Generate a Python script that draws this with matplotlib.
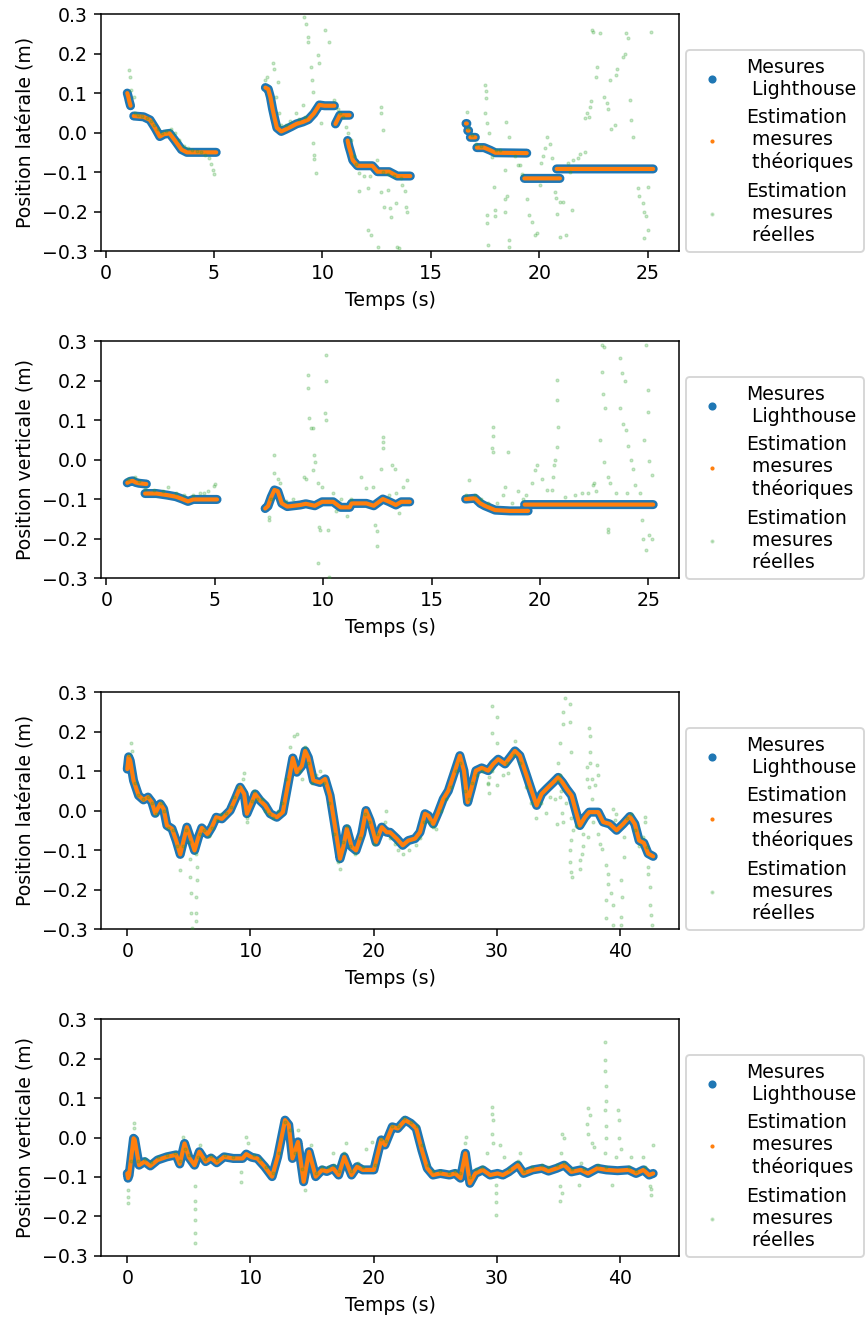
import numpy as np
import matplotlib
matplotlib.use("Agg")
import matplotlib.pyplot as plt
from matplotlib.lines import Line2D

nan = np.nan

# ---------------- Panel 1 : lateral position, run 1 ----------------
p1_t_lh = [1.0, 1.05, 1.1, 1.15, nan, 1.3, 1.75, 2.05, 2.3, 2.5, 2.7, 2.95, 3.2, 3.5, 3.75, 4.2, 5.1, nan,
           7.37, 7.5, 7.6, 7.7, 7.8, 7.9, 8.1, 8.3, 8.56, 8.8, 9.1, 9.35, 9.6, 9.86, 10.1, 10.55, nan,
           10.6, 10.8, 11.25, nan,
           11.16, 11.22, 11.3, 11.4, 11.62, 12.3, 12.54, 13.07, 13.45, 14.05, nan,
           16.62, 16.66, nan, 16.7, 16.74, nan, 16.82, 17.05, nan, 17.12, 17.45, 17.75, 17.97, 19.42, nan,
           19.31, 20.95, nan, 20.8, 25.25]
p1_y_lh = [0.10, 0.09, 0.078, 0.068, nan, 0.042, 0.040, 0.032, 0.01, -0.01, -0.004, -0.002, -0.02, -0.043, -0.05, -0.05, -0.05, nan,
           0.114, 0.11, 0.09, 0.06, 0.035, 0.012, 0.003, 0.008, 0.015, 0.022, 0.027, 0.033, 0.048, 0.07, 0.068, 0.068, nan,
           0.022, 0.044, 0.044, nan,
           -0.02, -0.035, -0.05, -0.07, -0.084, -0.084, -0.099, -0.099, -0.11, -0.11, nan,
           0.023, 0.023, nan, 0.005, 0.005, nan, -0.012, -0.012, nan, -0.038, -0.038, -0.045, -0.051, -0.052, nan,
           -0.116, -0.116, nan, -0.092, -0.092]

p1_t_re = [1.07, 1.12, 1.18, 1.3, 1.35, 1.5, 1.7, 1.9, 2.1, 2.25, 2.4, 2.6, 2.8, 3.0, 3.2, 3.4, 3.6, 3.8, 4.0, 4.2,
           4.4, 4.6, 4.75, 4.85, 4.95, 5.0,
           7.37, 7.45, 7.72, 7.75, 7.95, 7.87, 8.0, 8.1, 8.3, 8.5, 8.79, 8.9, 9.1, 9.2, 10.55, 10.7, 10.8, 10.95,
           11.08, 11.16, 11.3, 11.45, 11.55, 11.7, 11.9, 12.2, 12.5, 12.8, 13.0, 13.3, 13.6,
           9.17, 9.25, 9.33, 9.33, 9.48, 9.5, 9.56, 9.79, 9.86, 10.1, 10.32, 9.56, 9.63, 9.63, 9.68, 9.94,
           11.7, 12.08, 12.69, 12.7, 12.77, 12.69, 13.0, 12.84, 13.1, 13.15, 13.38, 12.12, 12.23, 12.58,
           13.45, 13.53, 13.69, 13.8, 13.84, 13.9,
           16.67, 16.7, 16.9, 17.1, 17.3, 17.51, 17.52, 17.52, 17.51, 17.6, 17.7, 17.81, 17.89, 17.58, 17.6,
           17.63, 17.97, 17.97, 18.0, 18.2, 18.43, 18.43, 18.5, 18.43, 18.58, 18.58, 18.47, 18.6, 18.9, 19.04,
           19.1, 19.22, 19.42, 19.54, 19.65, 19.88, 19.8, 20.03, 20.1, 20.15, 20.26, 20.34, 20.5, 20.6, 20.72,
           20.75, 20.8, 20.95, 21.1, 20.95, 21.25, 21.53, 21.33, 21.4, 21.56, 21.8, 21.87, 22.09, 22.09, 22.2,
           22.3, 22.32, 22.4, 22.48, 22.45, 22.78, 22.68, 22.63, 23.0, 23.1, 23.15, 23.32, 23.5, 23.24, 23.55,
           23.6, 23.85, 23.95, 24.0, 24.1, 24.16, 24.23, 24.3, 24.54, 24.6, 24.77, 24.85, 24.9, 24.82, 25.0,
           25.0, 25.15]
p1_y_re = [0.158, 0.141, 0.108, 0.091, 0.05, 0.045, 0.042, 0.037, 0.03, 0.018, 0.008, 0.0, 0.005, 0.008, 0.0, -0.02,
           -0.035, -0.04, -0.043, -0.046, -0.05, -0.058, -0.065, -0.08, -0.095, -0.105,
           0.133, 0.14, 0.175, 0.16, 0.129, 0.09, 0.05, 0.02, 0.02, 0.03, 0.049, 0.035, 0.07, 0.04, 0.082, 0.06,
           0.05, 0.04, 0.015, 0.0, -0.02, -0.06, -0.08, -0.103, -0.11, -0.11, -0.07, -0.1, -0.105, -0.11, -0.115,
           0.293, 0.276, 0.243, 0.23, 0.167, 0.133, 0.103, 0.196, 0.175, 0.261, 0.23, -0.027, -0.057, -0.066,
           -0.102, 0.025,
           -0.148, -0.141, 0.065, 0.05, 0.006, -0.15, -0.145, -0.188, -0.19, -0.213, -0.179, -0.247, -0.26,
           -0.289, -0.289, -0.292, -0.133, -0.147, -0.188, -0.2,
           0.053, 0.012, -0.005, -0.03, -0.035, 0.12, 0.105, 0.087, 0.05, 0.025, 0.0, -0.061, -0.137, -0.209,
           -0.23, -0.285, -0.196, -0.21, -0.045, -0.045, -0.095, -0.167, -0.16, -0.2, -0.272, -0.29, 0.027,
           -0.01, -0.06, -0.083, -0.083, -0.106, -0.167, -0.209, -0.226, -0.255, -0.26, -0.133, -0.078, -0.06,
           -0.04, -0.011, -0.03, -0.065, -0.15, -0.165, -0.205, -0.175, -0.175, -0.264, -0.26, -0.196, -0.078,
           -0.1, -0.07, -0.065, -0.053, -0.049, 0.036, 0.05, 0.04, 0.065, 0.08, 0.255, 0.26, 0.251, 0.167, 0.14,
           0.09, 0.075, 0.06, 0.008, 0.02, 0.133, 0.146, 0.16, 0.192, 0.2, 0.251, 0.24, 0.082, 0.032, -0.01,
           -0.141, -0.16, -0.179, -0.2, -0.21, -0.268, -0.247, -0.137, 0.255]

# ---------------- Panel 2 : vertical position, run 1 ----------------
p2_t_lh = [0.96, 1.1, 1.21, 1.35, 1.5, 1.84, nan,
           1.78, 2.3, 2.8, 3.2, 3.5, 3.76, 4.0, 5.1, nan,
           7.32, 7.45, 7.6, 7.75, 7.9, 8.09, 8.34, 8.94, 9.2, 9.61, 9.95, 10.46, 10.8, 11.22, 11.31, 11.99,
           12.33, 12.75, 13.05, 13.35, 13.6, 13.99, nan,
           16.57, 17.0, 17.25, 17.45, 17.93, 18.61, 19.45, nan,
           19.29, 25.22]
p2_y_lh = [-0.059, -0.055, -0.054, -0.058, -0.06, -0.062, nan,
           -0.086, -0.086, -0.09, -0.094, -0.1, -0.106, -0.101, -0.101, nan,
           -0.124, -0.118, -0.095, -0.077, -0.08, -0.111, -0.119, -0.115, -0.112, -0.117, -0.107, -0.107,
           -0.121, -0.121, -0.111, -0.111, -0.117, -0.1, -0.107, -0.115, -0.107, -0.107, nan,
           -0.1, -0.098, -0.111, -0.117, -0.128, -0.13, -0.13, nan,
           -0.114, -0.114]

p2_t_re = [1.0, 1.3, 1.5, 1.8, 2.2, 2.6, 2.83, 3.2, 3.6, 4.0, 4.3, 4.5, 4.7, 4.94, 5.0,
           7.49, 7.5, 7.6, 7.75, 7.75, 7.9, 8.0, 8.3, 8.6, 9.1, 9.2, 9.28, 9.3, 9.36, 9.45, 9.55, 9.58, 9.62,
           9.55, 9.75, 9.79, 9.85, 9.75, 9.95, 10.12, 10.15, 10.09, 10.15, 10.2, 10.26, 10.45, 10.6, 10.8,
           11.1, 11.3, 11.73, 11.99, 12.3, 12.41, 12.5, 12.46, 12.65, 12.75, 12.75, 12.75, 13.05, 13.18, 13.3,
           13.35, 13.5, 13.7, 13.86,
           16.6, 16.74, 17.0, 17.3, 17.6, 17.8, 17.84, 17.84, 17.84, 18.0, 18.3, 18.4, 18.52, 18.7, 19.0,
           19.2, 19.37, 19.62, 19.79, 19.88, 20.1, 20.3, 20.55, 20.6, 20.65, 20.7, 20.8, 20.81, 20.8, 20.78,
           21.15, 21.6, 21.95, 22.2, 22.43, 22.5, 22.6, 22.77, 22.85, 22.95, 22.85, 22.9, 23.0, 22.95, 23.12,
           23.15, 23.15, 23.25, 23.5, 23.7, 23.8, 23.9, 23.7, 23.85, 23.97, 24.05, 24.2, 24.3, 24.4, 24.71,
           24.75, 24.89, 24.89, 24.97, 24.97, 24.8, 25.05, 25.15, 25.05, 25.15, 24.6, 24.0]
p2_y_re = [-0.05, -0.043, -0.055, -0.075, -0.078, -0.08, -0.07, -0.085, -0.09, -0.09, -0.085, -0.085, -0.08,
           -0.067, -0.063,
           -0.145, -0.153, -0.1, -0.035, 0.011, -0.05, -0.06, -0.105, -0.1, -0.043, -0.05, 0.214, 0.18, 0.104,
           0.08, 0.08, 0.011, -0.005, -0.027, -0.06, -0.17, -0.178, -0.263, -0.07, 0.265, 0.2, 0.117, 0.1,
           -0.178, -0.297, -0.085, -0.13, -0.1, -0.143, -0.1, -0.043, -0.073, -0.07, -0.166, -0.18, -0.22,
           -0.025, 0.058, 0.045, 0.03, -0.09, -0.014, -0.025, -0.085, -0.135, -0.07, -0.052,
           -0.09, -0.052, -0.09, -0.1, -0.11, 0.03, 0.083, 0.06, 0.02, -0.11, -0.09, -0.07, 0.02, -0.11, -0.08,
           -0.1, -0.09, -0.06, -0.027, -0.015, -0.05, -0.077, -0.077, -0.045, -0.015, 0.0, 0.032, 0.083, 0.152,
           0.201, -0.094, -0.09, -0.085, -0.085, -0.065, -0.06, -0.08, 0.049, 0.29, 0.285, 0.222, 0.165, 0.13,
           -0.005, -0.183, -0.175, -0.045, -0.06, -0.085, 0.256, 0.22, 0.2, 0.13, 0.09, 0.075, 0.035, 0.0,
           -0.025, -0.065, -0.153, -0.2, -0.229, 0.29, 0.176, 0.12, 0.05, -0.003, -0.04, -0.19, -0.2, -0.085,
           -0.085]

# ---------------- Panel 3 : lateral position, run 2 ----------------
p3_t_lh = [0.0, 0.11, 0.24, 0.51, 0.92, 1.32, 1.68, 2.0, 2.27, 2.68, 2.95, 3.22, 3.63, 3.97, 4.3, 4.57, 4.84,
           5.11, 5.46, 5.78, 6.05, 6.51, 6.86, 7.22, 7.68, 8.35, 8.76, 9.16, 9.49, 9.71, 10.11, 10.38, 10.79,
           11.19, 11.6, 12.14, 12.63, 12.95, 13.44, 13.76, 14.17, 14.44, 14.7, 15.11, 15.65, 16.06, 16.46,
           16.87, 17.27, 17.54, 17.82, 18.22, 18.57, 19.03, 19.38, 19.71, 20.19, 20.66, 21.06, 21.33, 21.87,
           22.36, 22.81, 23.36, 23.76, 24.17, 24.44, 24.84, 25.25, 25.65, 26.06, 26.6, 27.0, 27.33, 27.63,
           27.96, 28.3, 28.77, 29.3, 29.71, 30.11, 30.66, 31.06, 31.47, 31.87, 32.42, 32.82, 33.23, 33.63,
           34.04, 34.57, 34.98, 35.33, 35.66, 36.07, 36.47, 36.74, 37.15, 37.5, 38.23, 38.63, 39.17, 39.72,
           40.25, 40.8, 41.2, 41.55, 41.93, 42.28, 42.69]
p3_y_lh = [0.105, 0.136, 0.126, 0.076, 0.038, 0.027, 0.034, 0.021, -0.007, 0.017, 0.004, -0.038, -0.046,
           -0.076, -0.111, -0.076, -0.042, -0.067, -0.101, -0.067, -0.044, -0.06, -0.042, -0.017, -0.021, 0.0,
           0.029, 0.059, 0.042, -0.008, 0.021, 0.042, 0.025, 0.013, -0.008, -0.017, -0.004, 0.05, 0.133, 0.097,
           0.113, 0.151, 0.134, 0.076, 0.071, 0.08, 0.038, -0.042, -0.122, -0.092, -0.046, -0.092, -0.101,
           -0.059, 0.0, -0.025, -0.08, -0.042, -0.055, -0.055, -0.071, -0.088, -0.076, -0.071, -0.055, -0.008,
           -0.013, -0.034, -0.004, 0.029, 0.05, 0.101, 0.139, 0.101, 0.021, 0.059, 0.101, 0.108, 0.101, 0.118,
           0.13, 0.118, 0.134, 0.151, 0.139, 0.088, 0.05, 0.013, 0.042, 0.055, 0.071, 0.084, 0.071, 0.055,
           0.038, -0.008, -0.038, -0.017, -0.004, -0.004, -0.029, -0.034, -0.05, -0.034, -0.015, -0.034,
           -0.076, -0.082, -0.109, -0.116]

p3_t_re = [0.1, 0.32, 0.4, 0.6, 0.9, 1.3, 1.7, 2.0, 2.3, 2.7, 3.0, 3.3, 3.7, 4.0, 4.3, 4.5, 4.8, 5.0,
           5.1, 5.11, 5.15, 5.2, 5.28, 5.6, 5.65, 5.65, 5.6, 5.57, 5.55, 5.9, 6.2, 6.6, 6.9, 7.3, 7.6, 8.0,
           8.4, 8.7, 9.0, 9.4, 9.5, 9.7, 9.75, 10.1, 10.3, 10.5, 10.9, 11.2, 11.5, 11.8, 12.2, 12.6, 12.9,
           13.2, 13.5, 13.76, 14.0, 14.17, 14.44, 14.7, 15.0, 15.3, 15.65, 16.0, 16.4, 16.8, 17.1, 17.27,
           17.5, 17.8, 18.1, 18.5, 18.9, 19.3, 19.6, 20.0, 20.3, 20.9, 21.0, 21.3, 21.7, 22.0, 22.4, 22.9,
           23.4, 23.8, 24.1, 24.5, 24.8, 25.1, 25.5, 25.9, 26.3, 26.7, 27.0, 27.4, 27.7, 28.0, 28.4, 28.8,
           29.3, 29.6, 30.0, 30.5, 30.8, 30.9, 31.4, 31.47, 31.9, 32.4, 32.8, 33.2, 33.6, 34.0, 34.3, 34.7,
           34.85, 35.2, 35.6, 36.0, 36.4, 37.0, 37.42, 37.8, 38.23, 38.4, 38.5, 39.44, 39.7, 39.6, 40.3, 40.6,
           40.9, 41.2, 41.5, 41.85, 42.0, 42.0,
           29.58, 29.98, 29.58, 29.98, 29.3, 29.4, 29.4,
           35.52, 35.93, 35.4, 35.4, 35.95, 35.12, 35.0, 35.1, 35.0, 35.1, 35.3, 35.35, 35.98,
           36.2, 36.0, 35.9, 35.95, 36.0, 36.14, 36.74, 36.74, 37.0, 36.95,
           37.5, 37.55, 37.55, 37.55, 37.35, 37.3, 37.45, 37.7, 37.7, 38.1, 38.25, 37.95,
           38.9, 39.0, 39.0, 38.9, 38.9, 39.3, 39.4, 39.4, 40.05, 40.2, 40.05, 40.05, 40.3,
           42.15, 42.3, 42.3, 42.4, 42.4, 42.5, 42.6]
p3_y_re = [0.14, 0.172, 0.15, 0.07, 0.04, 0.03, 0.035, 0.02, -0.01, 0.02, 0.0, -0.045, -0.05, -0.09, -0.151,
           -0.09, -0.05, -0.08, -0.122, -0.168, -0.21, -0.26, -0.297, -0.109, -0.143, -0.176, -0.218, -0.26,
           -0.28, -0.06, -0.05, -0.065, -0.045, -0.025, -0.01, -0.005, 0.01, 0.035, 0.06, 0.08, 0.095, -0.02,
           -0.03, 0.025, 0.05, 0.03, 0.03, 0.0, -0.01, -0.02, 0.0, 0.02, 0.08, 0.16, 0.19, 0.193, 0.1, 0.08,
           0.16, 0.12, 0.07, 0.09, 0.1, 0.07, 0.02, -0.06, -0.13, -0.147, -0.08, -0.04, -0.09, -0.11, -0.07,
           -0.01, -0.03, -0.085, -0.06, -0.03, 0.0, -0.07, -0.085, -0.1, -0.109, -0.101, -0.088, -0.07, -0.03,
           -0.03, -0.042, -0.046, 0.0, 0.03, 0.06, 0.1, 0.12, 0.05, 0.03, 0.07, 0.09, 0.1, 0.07, 0.1, 0.065,
           0.09, 0.12, 0.095, 0.14, 0.176, 0.12, 0.06, 0.02, -0.02, 0.02, -0.005, 0.035, 0.03, -0.034, 0.05,
           0.02, -0.02, -0.04, -0.06, -0.067, -0.03, -0.059, -0.085, -0.097, 0.004, -0.008, -0.025, -0.067,
           -0.02, -0.01, -0.05, -0.09, -0.067, -0.017, -0.03,
           0.265, 0.237, 0.197, 0.172, 0.067, 0.045, 0.085,
           0.286, 0.269, 0.25, 0.22, 0.225, 0.172, 0.12, 0.09, 0.075, 0.035, -0.005, -0.03, 0.147,
           -0.05, -0.075, -0.1, -0.13, -0.155, -0.168, -0.126, -0.147, -0.09, -0.11,
           0.21, 0.19, 0.147, 0.12, 0.11, 0.08, 0.06, 0.03, 0.08, 0.115, 0.09, 0.065,
           -0.139, -0.16, -0.185, -0.227, -0.273, -0.21, -0.24, -0.29, -0.176, -0.22, -0.27, -0.29, -0.118,
           -0.092, -0.143, -0.16, -0.193, -0.24, -0.264, -0.29]

# ---------------- Panel 4 : vertical position, run 2 ----------------
p4_t_lh = [0.0, 0.06, 0.15, 0.51, 0.6, 0.96, 1.41, 1.87, 2.46, 3.21, 3.96, 4.26, 4.65, 5.0, 5.46, 5.85, 6.36,
           6.8, 7.26, 7.86, 8.61, 9.36, 9.66, 10.1, 10.56, 11.16, 11.76, 12.21, 12.81, 13.11, 13.41, 13.86,
           14.32, 14.76, 15.3, 15.82, 16.2, 16.72, 17.16, 17.62, 18.21, 18.66, 19.12, 20.02, 20.62, 20.92,
           21.52, 21.96, 22.56, 23.02, 23.46, 23.92, 24.36, 24.82, 25.42, 26.16, 26.62, 27.06, 27.45, 27.82,
           28.26, 28.86, 29.46, 30.06, 30.5, 30.97, 31.71, 32.17, 32.91, 33.67, 34.2, 34.87, 35.47, 36.06,
           36.81, 37.41, 38.17, 38.91, 39.81, 40.71, 41.31, 41.91, 42.37, 42.7]
p4_y_lh = [-0.091, -0.103, -0.095, -0.002, -0.005, -0.07, -0.061, -0.072, -0.057, -0.049, -0.044, -0.067,
           -0.015, -0.05, -0.07, -0.036, -0.061, -0.052, -0.064, -0.049, -0.053, -0.053, -0.042, -0.05, -0.053,
           -0.074, -0.099, -0.049, 0.044, 0.032, -0.053, -0.011, -0.112, -0.036, -0.099, -0.082, -0.086,
           -0.078, -0.095, -0.049, -0.095, -0.074, -0.082, -0.082, -0.006, -0.019, 0.027, 0.023, 0.044, 0.036,
           0.023, -0.032, -0.078, -0.095, -0.091, -0.095, -0.091, -0.103, -0.04, -0.116, -0.091, -0.082,
           -0.095, -0.091, -0.095, -0.087, -0.07, -0.091, -0.082, -0.078, -0.085, -0.078, -0.07, -0.087,
           -0.082, -0.091, -0.078, -0.082, -0.084, -0.082, -0.091, -0.082, -0.095, -0.091]

p4_t_re = [0.3, 0.51, 0.55, 0.06, 0.06, 0.06, 0.9, 1.4, 1.9, 2.5, 3.2, 3.9, 4.3, 4.56, 4.7, 5.0, 5.46, 5.46,
           5.5, 5.46, 5.46, 5.46, 5.75, 5.9, 6.3, 6.8, 7.3, 7.9, 8.6, 9.21, 9.21, 9.66, 9.8, 10.3, 10.8, 11.3,
           11.8, 12.3, 12.8, 13.2, 13.6, 13.86, 14.2, 14.46, 14.9, 15.3, 15.8, 16.3, 16.7, 16.8, 17.2, 17.6,
           17.76, 18.2, 18.7, 19.1, 19.4, 19.86, 20.1, 20.6, 21.0, 21.5, 22.0, 22.5, 23.0, 23.5, 23.9, 24.4,
           24.8, 25.4, 26.1, 26.6, 27.0, 27.4, 27.52, 27.8, 28.3, 28.8, 29.2, 29.61, 29.6, 29.7, 29.65, 29.7,
           29.92, 29.92, 29.92, 29.92, 30.3, 30.6, 31.0, 31.7, 31.9, 32.2, 32.9, 33.7, 34.2, 34.9, 35.2,
           35.31, 35.45, 35.16, 35.16, 35.3, 35.5, 36.1, 36.7, 36.85, 37.1, 37.41, 37.55, 37.35, 37.4, 37.7,
           37.9, 38.2, 38.77, 38.77, 38.8, 38.85, 38.85, 38.8, 38.85, 38.85, 38.77, 38.9, 39.36, 39.7, 39.81,
           39.9, 39.95, 40.1, 40.7, 40.9, 41.3, 41.9, 42.0, 42.46, 42.5, 42.55, 42.66]
p4_y_re = [-0.06, 0.036, 0.025, -0.133, -0.15, -0.165, -0.06, -0.055, -0.062, -0.05, -0.045, -0.04, -0.06,
           0.002, -0.03, -0.045, -0.124, -0.16, -0.18, -0.21, -0.243, -0.268, -0.05, -0.02, -0.055, -0.048,
           -0.058, -0.045, -0.05, -0.087, -0.112, 0.002, -0.015, -0.045, -0.055, -0.075, -0.09, -0.04, 0.04,
           0.02, -0.04, 0.02, -0.08, -0.133, -0.02, -0.09, -0.075, -0.075, -0.04, -0.07, -0.085, -0.04, -0.015,
           -0.085, -0.065, -0.075, -0.03, -0.011, -0.07, -0.005, -0.01, 0.03, 0.03, 0.05, 0.04, 0.03, -0.02,
           -0.07, -0.085, -0.085, -0.09, -0.085, -0.09, -0.015, 0.002, -0.1, -0.08, -0.075, -0.04, 0.078, 0.06,
           0.045, 0.01, -0.015, -0.12, -0.14, -0.163, -0.196, -0.02, -0.05, -0.08, -0.06, -0.04, -0.085,
           -0.075, -0.07, -0.075, -0.07, -0.04, 0.01, 0.0, -0.124, -0.16, -0.14, -0.065, -0.08, -0.12, -0.065,
           -0.08, 0.074, 0.058, 0.035, 0.01, -0.015, -0.025, -0.07, 0.243, 0.197, 0.168, 0.13, 0.092, 0.07,
           0.03, 0.0, -0.04, -0.075, -0.12, -0.05, 0.07, 0.045, 0.0, -0.03, -0.075, -0.05, -0.085, -0.05,
           -0.075, -0.124, -0.145, -0.13, -0.02]

labels = ["Mesures\n Lighthouse", "Estimation\n mesures\n théoriques", "Estimation\n mesures\n réelles"]
ylabels = ["Position latérale (m)", "Position verticale (m)", "Position latérale (m)", "Position verticale (m)"]
xlabel = "Temps (s)"

panels = [
    (p1_t_lh, p1_y_lh, p1_t_re, p1_y_re),
    (p2_t_lh, p2_y_lh, p2_t_re, p2_y_re),
    (p3_t_lh, p3_y_lh, p3_t_re, p3_y_re),
    (p4_t_lh, p4_y_lh, p4_t_re, p4_y_re),
]

DPI = 136
fig = plt.figure(figsize=(866 / DPI, 1320 / DPI), dpi=DPI)

bottoms = [0.8098, 0.5621, 0.2962, 0.0485]
left, width, height = 0.1166, 0.668, 0.1795

blue, orange, green = "#1f77b4", "#ff7f0e", "#2ca02c"

for (t_lh, y_lh, t_re, y_re), b, ylab in zip(panels, bottoms, ylabels):
    ax = fig.add_axes([left, b, width, height])
    # Lighthouse measurements (large blue dots forming a thick band)
    ax.plot(t_lh, y_lh, color=blue, lw=4.8, solid_capstyle="round", solid_joinstyle="round", zorder=2)
    # Theoretical estimation (small orange dots, same trajectory)
    ax.plot(t_lh, y_lh, color=orange, lw=2.2, solid_capstyle="round", solid_joinstyle="round", zorder=3)
    # Real estimation (faint green points)
    ax.scatter(t_re, y_re, s=2.5, color=green, alpha=0.25, linewidths=0.6, zorder=4)
    ax.set_ylim(-0.3, 0.3)
    ax.set_ylabel(ylab)
    ax.set_xlabel(xlabel)

    handles = [
        Line2D([], [], ls="", marker="o", color=blue, markersize=3.3),
        Line2D([], [], ls="", marker="o", color=orange, markersize=1.2),
        Line2D([], [], ls="", marker="o", color=green, alpha=0.25, markersize=1.2),
    ]
    ax.legend(handles, labels, loc="lower left", bbox_to_anchor=(1.011, -0.005), borderaxespad=0)

fig.savefig("out.png", dpi=DPI)
